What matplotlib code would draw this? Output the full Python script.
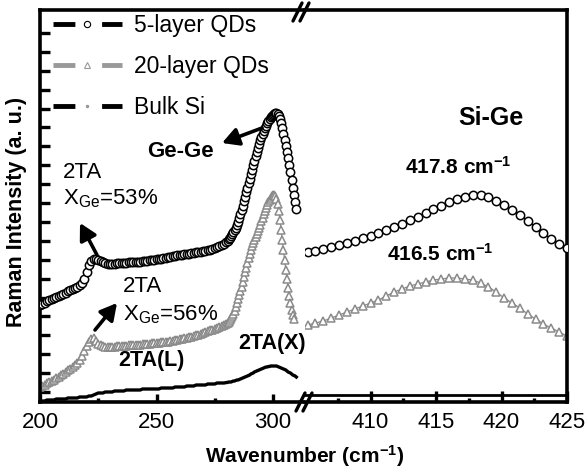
import numpy as np
import matplotlib
matplotlib.use("Agg")
import matplotlib.pyplot as plt
from matplotlib.lines import Line2D

plt.rcParams['font.family'] = ['Liberation Sans', 'DejaVu Sans']
plt.rcParams['mathtext.fontset'] = 'custom'
plt.rcParams['mathtext.rm'] = 'Liberation Sans'
plt.rcParams['mathtext.bf'] = 'Liberation Sans:bold'
plt.rcParams['mathtext.it'] = 'Liberation Sans:italic'

# ---------------- data ----------------
# left panel wavenumbers: 1 cm-1 steps to 279, then 0.5 cm-1 steps to 310
x_left = np.concatenate([np.arange(200, 280, 1.0), np.arange(280, 310.01, 0.5)])

qd5_left = [
    97, 98, 99, 101, 102, 103, 104, 105, 106, 107,
    108, 109, 111, 112, 113, 114, 115, 117, 119, 123,
    130, 137, 141, 143, 143, 142, 141, 140, 139, 138,
    138, 138, 138, 139, 139, 139, 139, 139, 140, 140,
    140, 140, 140, 140, 141, 141, 141, 142, 142, 142,
    143, 143, 143, 144, 144, 145, 145, 146, 146, 147,
    147, 147, 148, 148, 148, 149, 149, 150, 150, 150,
    151, 151, 152, 152, 153, 154, 155, 156, 157, 158,
    160, 161, 163, 164, 166, 168, 170, 172, 174, 177,
    180, 184, 188, 192, 196, 201, 205, 210, 214, 219,
    223, 228, 232, 237, 241, 246, 250, 254, 258, 262,
    265, 268, 271, 274, 276, 279, 281, 283, 285, 286,
    287, 288, 289, 289, 288, 286, 283, 279, 274, 268,
    262, 256, 250, 244, 237, 230, 222, 214, 207, 200,
    193,
]

qd20_left = [
    15, 16, 17, 19, 20, 21, 22, 24, 25, 27,
    28, 30, 32, 33, 35, 37, 39, 42, 46, 51,
    56, 60, 63, 64, 61, 58, 57, 56, 55, 55,
    55, 55, 55, 56, 56, 56, 56, 56, 57, 57,
    57, 57, 57, 57, 58, 58, 58, 58, 59, 59,
    59, 59, 60, 60, 60, 60, 61, 61, 62, 62,
    63, 63, 64, 64, 65, 65, 66, 67, 67, 68,
    69, 70, 71, 72, 72, 73, 74, 75, 76, 77,
    78, 79, 80, 82, 84, 86, 88, 91, 95, 99,
    103, 107, 111, 115, 120, 125, 130, 134, 139, 144,
    148, 152, 156, 159, 162, 165, 168, 171, 174, 177,
    181, 184, 188, 191, 194, 197, 200, 202, 204, 206,
    207, 207, 206, 203, 198, 191, 182, 172, 162, 152,
    142, 132, 123, 114, 106, 99, 92, 87, 83, np.nan,
    np.nan,
]

bulk_left = [
    1, 1, 1, 2, 2, 2, 2, 3, 3, 3,
    3, 3, 4, 4, 4, 4, 4, 5, 5, 5,
    5, 6, 6, 7, 8, 9, 9, 9, 10, 10,
    10, 10, 11, 11, 11, 11, 11, 12, 12, 12,
    12, 12, 12, 12, 13, 13, 13, 13, 13, 13,
    13, 13, 14, 14, 14, 14, 14, 14, 15, 15,
    15, 15, 15, 16, 16, 16, 16, 17, 17, 17,
    17, 17, 18, 18, 18, 18, 19, 19, 19, 19,
    19.5, 19.5, 20, 20, 20, 20.5, 21, 21, 21.5, 22,
    22, 22.5, 23, 23.5, 24, 24.5, 25, 25.5, 26, 26.5,
    27, 28, 28.5, 29, 30, 30.5, 31, 31.5, 32, 32.5,
    33, 33.5, 34, 34.5, 35, 35, 35.5, 35.5, 36, 36,
    36, 36, 36, 36, 35.5, 35, 34.5, 34, 33.5, 33,
    32.5, 32, 31, 30, 29.5, 29, 28, 27, 26.5, 26,
    25,
]

# right panel (Si-Ge band)
x_right = np.linspace(405.2, 425.0, 34)
qd5_right = [
    150, 151, 153, 155, 157, 159, 161, 164, 166, 169,
    172, 175, 178, 182, 185, 189, 193, 196, 200, 203,
    205, 207, 207, 205, 201, 197, 192, 187, 181, 175,
    169, 163, 158, 154,
]
qd20_right = [
    77, 79, 81, 84, 87, 90, 93, 96, 99, 102,
    106, 110, 113, 116, 118, 120, 122, 123, 124, 124,
    123, 122, 119, 115, 110, 104, 99, 94, 88, 83,
    78, 74, 70, 66,
]

labels = ['5-layer QDs', '20-layer QDs', 'Bulk Si']
left_ticks = [200, 250, 300]
right_ticks = [410, 415, 420, 425]

# ---------------- figure ----------------
W, H = 585, 474
fig = plt.figure(figsize=(W / 100, H / 100), dpi=100)

def fx(px):
    return px / W

def fy(py):
    return 1 - py / H

axL = fig.add_axes([fx(40), fy(402), 263 / W, 392 / H])
axR = fig.add_axes([fx(305), fy(402), 262 / W, 392 / H])

gray = '#8a8a8a'
c5 = dict(ls='-', lw=0.9, color='k', marker='o', ms=6.0, mfc='white', mec='k', mew=1.1)
c20 = dict(ls='-', lw=0.9, color=gray, marker='^', ms=6.4, mfc='white', mec=gray, mew=1.1)

axL.plot(x_left, qd20_left, **c20, zorder=2)
axL.plot(x_left, qd5_left, **c5, zorder=3)
axL.plot(x_left, bulk_left, color='k', lw=2.4, zorder=3)

axR.plot(x_right, qd20_right, **c20, zorder=2)
axR.plot(x_right, qd5_right, **c5, zorder=3)

for ax in (axL, axR):
    ax.set_ylim(0, 392)
    for s in ax.spines.values():
        s.set_linewidth(2.6)
    ax.tick_params(axis='both', which='both', direction='in', width=2.4,
                   labelsize=16, pad=7)
    ax.tick_params(which='major', length=6)
    ax.tick_params(which='minor', length=3)

axL.set_xlim(200, 200 + 263 / 2.33)
axL.spines['right'].set_visible(False)
axL.set_xticks(left_ticks)
axL.set_xticks([225, 275], minor=True)
axL.set_yticks(np.arange(10, 380, 18.9))
axL.set_yticklabels([])
axL.tick_params(axis='y', length=7)

axR.set_xlim(405, 425)
axR.spines['left'].set_visible(False)
axR.set_xticks(right_ticks)
axR.set_xticks([407.5, 412.5, 417.5, 422.5], minor=True)
axR.set_yticks([])
axR.axhline(7, color='k', lw=2.0, xmin=0.0, xmax=1.0)
axR.tick_params(which='major', length=8)

# axis labels
fig.text(fx(305), fy(456), 'Wavenumber (cm$^{\\mathbf{-1}}$)', fontsize=15,
         fontweight='bold', ha='center', va='center')
fig.text(fx(17), fy(212), 'Raman Intensity (a. u.)', fontsize=15.5,
         fontweight='bold', ha='center', va='center', rotation=90)

# legend
handles = [
    Line2D([], [], color='k', lw=3.5, ls=(0, (4.5, 5.5)), marker='o', ms=4.5,
           mfc='white', mec='k', mew=0.8),
    Line2D([], [], color='#999999', lw=3.5, ls=(0, (4.5, 5.5)), marker='^', ms=5,
           mfc='white', mec='#999999', mew=0.8),
    Line2D([], [], color='k', lw=3.5, ls=(0, (4.5, 5.5)), marker='.', ms=3,
           mfc='#999999', mec='#999999'),
]
fig.legend(handles, labels, loc='upper left', bbox_to_anchor=(fx(53), fy(14)),
           frameon=False, fontsize=16.5, handlelength=3.0, handletextpad=0.55,
           labelspacing=0.78, borderpad=0, borderaxespad=0, numpoints=1)

# annotations
fs = 16
fig.text(fx(147), fy(157), 'Ge-Ge', fontsize=16, fontweight='bold', ha='left', va='baseline')
fig.text(fx(63), fy(178), '2TA', fontsize=fs, ha='left', va='baseline')
fig.text(fx(63), fy(204), r'X$_{\mathrm{Ge}}$=53%', fontsize=fs, ha='left', va='baseline')
fig.text(fx(123), fy(292), '2TA', fontsize=fs, ha='left', va='baseline')
fig.text(fx(123), fy(320), r'X$_{\mathrm{Ge}}$=56%', fontsize=fs, ha='left', va='baseline')
fig.text(fx(118), fy(366), '2TA(L)', fontsize=15.5, fontweight='bold', ha='left', va='baseline')
fig.text(fx(238), fy(349), '2TA(X)', fontsize=15.5, fontweight='bold', ha='left', va='baseline')
fig.text(fx(458), fy(125), 'Si-Ge', fontsize=18, fontweight='bold', ha='left', va='baseline')
fig.text(fx(405), fy(174), '417.8 cm$^{\\mathbf{-1}}$', fontsize=15, fontweight='bold',
         ha='left', va='baseline')
fig.text(fx(387), fy(261), '416.5 cm$^{\\mathbf{-1}}$', fontsize=15, fontweight='bold',
         ha='left', va='baseline')

arrow = dict(arrowstyle='-|>,head_length=0.55,head_width=0.3', lw=2.6, color='k',
             mutation_scale=18, shrinkA=0, shrinkB=0)
for tail, head in [((262, 128), (222, 143)), ((97, 255), (80, 223)), ((95, 330), (117, 303))]:
    fig.add_artist(matplotlib.patches.FancyArrowPatch(
        (fx(tail[0]), fy(tail[1])), (fx(head[0]), fy(head[1])),
        transform=fig.transFigure, **arrow))

# axis break marks
for (x0, y0, x1, y1) in [(293, 21, 302, 3), (300, 21, 309, 3),
                         (296, 411, 305, 393), (303, 411, 312, 393)]:
    fig.add_artist(Line2D([fx(x0), fx(x1)], [fy(y0), fy(y1)], transform=fig.transFigure,
                          color='k', lw=2.4, solid_capstyle='round'))

fig.savefig('out.png', dpi=100)
